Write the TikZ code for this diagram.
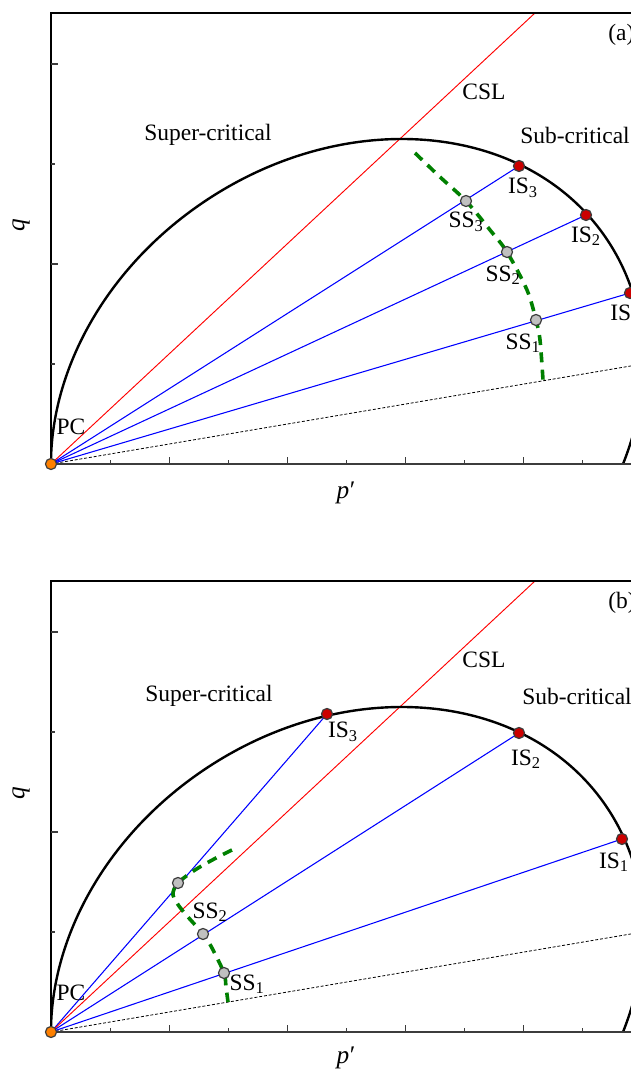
\documentclass[tikz,border=0pt]{standalone}
\usepackage{fontspec}
\setmainfont{Liberation Serif}
\usetikzlibrary{calc}
\definecolor{isred}{RGB}{204,0,0}
\definecolor{ssgray}{RGB}{192,192,192}
\definecolor{pcorange}{RGB}{255,128,0}
\definecolor{edgegray}{RGB}{60,60,60}
\definecolor{pathgreen}{RGB}{0,128,0}
\newcommand\mypanelbase{%
  \begin{scope}
    \clip (0,0) rectangle (720,451);
    \draw[surf, rotate around={33.7:(296.15,50.78)}] (296.15,50.78) ellipse [x radius=312.6, y radius=255.3];
  \end{scope}
  \draw[framestyle] (0,0) -- (0,451) -- (720,451);
  \draw[axisstyle] (0,0) -- (720,0);
  \foreach \x in {118.2,236.4,354.6,472.8} \draw[tickstyle] (\x,0) -- ++(0,7);
  \foreach \x in {59.1,177.3,295.5,413.7,531.9} \draw[tickstyle] (\x,0) -- ++(0,4);
  \foreach \y in {200,400} \draw[tickstyle] (0,\y) -- ++(7,0);
  \foreach \y in {100,300} \draw[tickstyle] (0,\y) -- ++(4,0);
}
\begin{document}
\begin{tikzpicture}[x=0.75pt,y=0.75pt,
  lbl/.style={font=\fontsize{17.6}{20}\selectfont, inner sep=0pt},
  axlbl/.style={font=\fontsize{19}{22}\selectfont, inner sep=0pt},
  surf/.style={line width=1.8pt, black},
  framestyle/.style={line width=0.8pt, black},
  axisstyle/.style={line width=1.1pt, edgegray},
  tickstyle/.style={line width=0.8pt, edgegray},
  cslline/.style={line width=0.7pt, red},
  pathline/.style={line width=0.8pt, blue},
  refline/.style={line width=0.6pt, black, dash pattern=on 2.2pt off 1.4pt},
  greenpath/.style={line width=2.7pt, pathgreen, dash pattern=on 7.5pt off 5.5pt},
  dotbase/.style={circle, minimum size=8.3pt, inner sep=0pt, draw=edgegray, line width=0.9pt},
  isdot/.style={dotbase, fill=isred},
  ssdot/.style={dotbase, fill=ssgray},
  pcdot/.style={dotbase, fill=pcorange}]
\useasboundingbox (0,0) rectangle (631,1072);
\clip (0,0) rectangle (631,1072);
\fill[white] (0,0) rectangle (631,1072);

% ---------------- panel (a) ----------------
\begin{scope}[shift={(51,608)}]
  \coordinate (pcA) at (0,0);
  \coordinate (is1A) at (579,171);
  \coordinate (is2A) at (535,249);
  \coordinate (is3A) at (468,298);
  \coordinate (ss1A) at (485,144);
  \coordinate (ss2A) at (456,212);
  \coordinate (ss3A) at (415,263);
  \coordinate (cslA) at (484,451);
  \coordinate (refA) at (640,108.2);
  \draw[cslline] (pcA) -- (cslA);
  \draw[refline] (pcA) -- (refA);
  \draw[pathline] (pcA) -- (is1A);
  \draw[pathline] (pcA) -- (is2A);
  \draw[pathline] (pcA) -- (is3A);
  \mypanelbase
  \draw[greenpath] plot[smooth] coordinates {(364,311) (389,287) (ss3A) (439,234) (ss2A) (476,174) (ss1A) (489,124) (492,84)};
  \node[pcdot] (pcAd) at (pcA) {};
  \node[isdot] (is1Ad) at (is1A) {};
  \node[isdot] (is2Ad) at (is2A) {};
  \node[isdot] (is3Ad) at (is3A) {};
  \node[ssdot] (ss1Ad) at (ss1A) {};
  \node[ssdot] (ss2Ad) at (ss2A) {};
  \node[ssdot] (ss3Ad) at (ss3A) {};
  \node[lbl] (lpcA) at (20,37) {PC};
  \node[lbl] (lcslA) at (433,372) {CSL};
  \node[lbl] (lsupA) at (157,329) {Super-critical};
  \node[lbl, anchor=west] (lsubA) at (469,329) {Sub-critical};
  \node[lbl, anchor=west] (ltagA) at (557,429) {(a)};
  \node[lbl] (lis3A) at (472,276) {IS\textsubscript{3}};
  \node[lbl] (lis2A) at (535,228) {IS\textsubscript{2}};
  \node[lbl, anchor=west] (lis1A) at (559,150) {IS\textsubscript{1}};
  \node[lbl] (lss3A) at (415,242) {SS\textsubscript{3}};
  \node[lbl] (lss2A) at (452,189) {SS\textsubscript{2}};
  \node[lbl] (lss1A) at (472,121) {SS\textsubscript{1}};
  \node[axlbl] (lpA) at (295,-29) {\textit{p}\kern0.5pt′};
  \node[axlbl, rotate=90] (lqA) at (-30,239) {\textit{q}};
\end{scope}

% ---------------- panel (b) ----------------
\begin{scope}[shift={(51,40)}]
  \coordinate (pcB) at (0,0);
  \coordinate (is1B) at (571,193);
  \coordinate (is2B) at (468,299);
  \coordinate (is3B) at (276,318);
  \coordinate (ss1B) at (173,59);
  \coordinate (ss2B) at (152,98);
  \coordinate (ss3B) at (127,149);
  \coordinate (cslB) at (484,451);
  \coordinate (refB) at (640,108.2);
  \draw[pathline] (pcB) -- (is3B);
  \draw[cslline] (pcB) -- (cslB);
  \draw[refline] (pcB) -- (refB);
  \draw[pathline] (pcB) -- (is1B);
  \draw[pathline] (pcB) -- (is2B);
  \mypanelbase
  \draw[greenpath] plot[smooth] coordinates {(181,182) (165,174) (144,162) (ss3B) (122,137) (131,122) (ss2B) (161,84) (ss1B) (175,45) (177,30)};
  \node[pcdot] (pcBd) at (pcB) {};
  \node[isdot] (is1Bd) at (is1B) {};
  \node[isdot] (is2Bd) at (is2B) {};
  \node[isdot] (is3Bd) at (is3B) {};
  \node[ssdot] (ss1Bd) at (ss1B) {};
  \node[ssdot] (ss2Bd) at (ss2B) {};
  \node[ssdot] (ss3Bd) at (ss3B) {};
  \node[lbl] (lpcB) at (20,39) {PC};
  \node[lbl] (lcslB) at (433,372) {CSL};
  \node[lbl] (lsupB) at (158,336) {Super-critical};
  \node[lbl, anchor=west] (lsubB) at (471,336) {Sub-critical};
  \node[lbl, anchor=west] (ltagB) at (557,429) {(b)};
  \node[lbl] (lis3B) at (292,300) {IS\textsubscript{3}};
  \node[lbl] (lis2B) at (475,273) {IS\textsubscript{2}};
  \node[lbl] (lis1B) at (563,170) {IS\textsubscript{1}};
  \node[lbl] (lss2B) at (159,120) {SS\textsubscript{2}};
  \node[lbl] (lss1B) at (196,48) {SS\textsubscript{1}};
  \node[axlbl] (lpB) at (295,-26) {\textit{p}\kern0.5pt′};
  \node[axlbl, rotate=90] (lqB) at (-30,239) {\textit{q}};
\end{scope}
\end{tikzpicture}
\end{document}
